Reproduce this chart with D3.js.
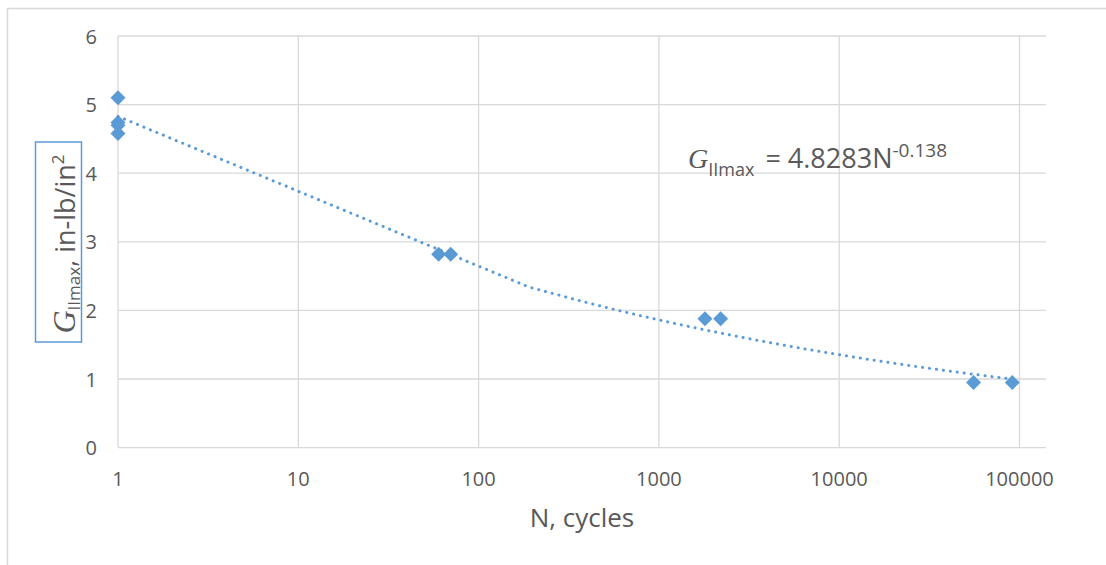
<!DOCTYPE html>
<html>
<head>
<meta charset="utf-8">
<script src="https://cdn.jsdelivr.net/npm/d3@7/dist/d3.min.js"></script>
<style>
  html, body { margin: 0; padding: 0; background: #fff; }
  svg { display: block; }
  text { fill: #595959; font-family: "Open Sans", "Noto Sans", sans-serif; }
</style>
</head>
<body>
<svg id="chart" width="1106" height="565"></svg>
<script>
// Measured cycles to failure and the corresponding maximum energy release rate
const cycles = [1, 1, 1, 1, 60, 70, 1800, 2200, 55600, 91200];
const gMax   = [5.10, 4.74, 4.70, 4.58, 2.82, 2.82, 1.88, 1.88, 0.95, 0.95];

// Axis ticks
const xTicks = [1, 10, 100, 1000, 10000, 100000];
const yTicks = [0, 1, 2, 3, 4, 5, 6];

// Power-law fit G = a * N^b, as printed on the chart
const fitA = 4.8283;
const fitB = -0.138;
const fitSegments = 480;

const svg = d3.select("#chart");
const blue = "#5b9bd5";
const grid = "#d9d9d9";

const plotLeft = 118, plotRight = 1046, plotTop = 36, plotBottom = 447.6;

const x = d3.scaleLog().domain([1, 100000]).range([plotLeft, 1019.5]);
const y = d3.scaleLinear().domain([0, 6]).range([plotBottom, plotTop]);

// Chart frame
svg.append("rect")
  .attr("x", 7.5).attr("y", 8.5)
  .attr("width", 1300).attr("height", 700)
  .attr("fill", "none").attr("stroke", grid).attr("stroke-width", 1.5);

// Horizontal gridlines
svg.append("g").selectAll("line").data(yTicks).join("line")
  .attr("x1", plotLeft).attr("x2", plotRight)
  .attr("y1", d => y(d)).attr("y2", d => y(d))
  .attr("stroke", grid).attr("stroke-width", 1.3);

// Vertical gridlines
svg.append("g").selectAll("line").data(xTicks).join("line")
  .attr("x1", d => x(d)).attr("x2", d => x(d))
  .attr("y1", plotTop).attr("y2", plotBottom)
  .attr("stroke", grid).attr("stroke-width", 1.3);

// Y tick labels
svg.append("g").selectAll("text").data(yTicks).join("text")
  .attr("x", 97).attr("y", d => y(d))
  .attr("text-anchor", "end").attr("dominant-baseline", "central")
  .attr("font-size", 20)
  .text(d => d);

// X tick labels
svg.append("g").selectAll("text").data(xTicks).join("text")
  .attr("x", d => x(d)).attr("y", 478)
  .attr("text-anchor", "middle").attr("dominant-baseline", "central")
  .attr("font-size", 20)
  .text(d => d);

// Trendline evaluated at evenly spaced cycle counts across the data range
const nMin = d3.min(cycles), nMax = d3.max(cycles);
const fitPts = d3.range(fitSegments + 1).map(i => {
  const n = nMin + (nMax - nMin) * i / fitSegments;
  return [n, fitA * Math.pow(n, fitB)];
});
svg.append("path")
  .datum(fitPts)
  .attr("d", d3.line().x(d => x(d[0])).y(d => y(d[1])))
  .attr("fill", "none").attr("stroke", blue)
  .attr("stroke-width", 3)
  .attr("stroke-linecap", "round")
  .attr("stroke-dasharray", "0.1 6.9");

// Diamond markers
const half = 7.5;
svg.append("g").selectAll("path").data(cycles.map((n, i) => [n, gMax[i]])).join("path")
  .attr("transform", d => `translate(${x(d[0])},${y(d[1])})`)
  .attr("d", `M0,${-half}L${half},0L0,${half}L${-half},0Z`)
  .attr("fill", blue);

// X axis title
svg.append("text")
  .attr("x", 582).attr("y", 527)
  .attr("text-anchor", "middle")
  .attr("font-size", 26)
  .text("N, cycles");

// Y axis title with its box
svg.append("rect")
  .attr("x", 35.5).attr("y", 142).attr("width", 46).attr("height", 200)
  .attr("fill", "#fff").attr("stroke", blue).attr("stroke-width", 1.5);

const yTitle = svg.append("text")
  .attr("transform", "translate(75,244) rotate(-90)")
  .attr("text-anchor", "middle")
  .attr("font-size", 27);
yTitle.append("tspan")
  .attr("font-family", "'Liberation Serif', 'DejaVu Serif', serif")
  .attr("font-style", "italic").attr("font-size", 32)
  .text("G");
yTitle.append("tspan").attr("font-size", 17).attr("dy", 5).text("IImax");
yTitle.append("tspan").attr("dy", -5).text(", in-lb/in");
yTitle.append("tspan").attr("font-size", 17).attr("dy", -11).text("2");

// Fit equation
const eq = svg.append("text")
  .attr("x", 688).attr("y", 168)
  .attr("font-size", 27);
eq.append("tspan")
  .attr("font-family", "'Liberation Serif', 'DejaVu Serif', serif")
  .attr("font-style", "italic").attr("font-size", 28)
  .text("G");
eq.append("tspan").attr("font-size", 18).attr("dy", 8).text("IImax");
eq.append("tspan").attr("dy", -8).attr("dx", 11).text(`= ${fitA}N`);
eq.append("tspan").attr("font-size", 19).attr("dy", -11).text(`${fitB}`);
</script>
</body>
</html>
